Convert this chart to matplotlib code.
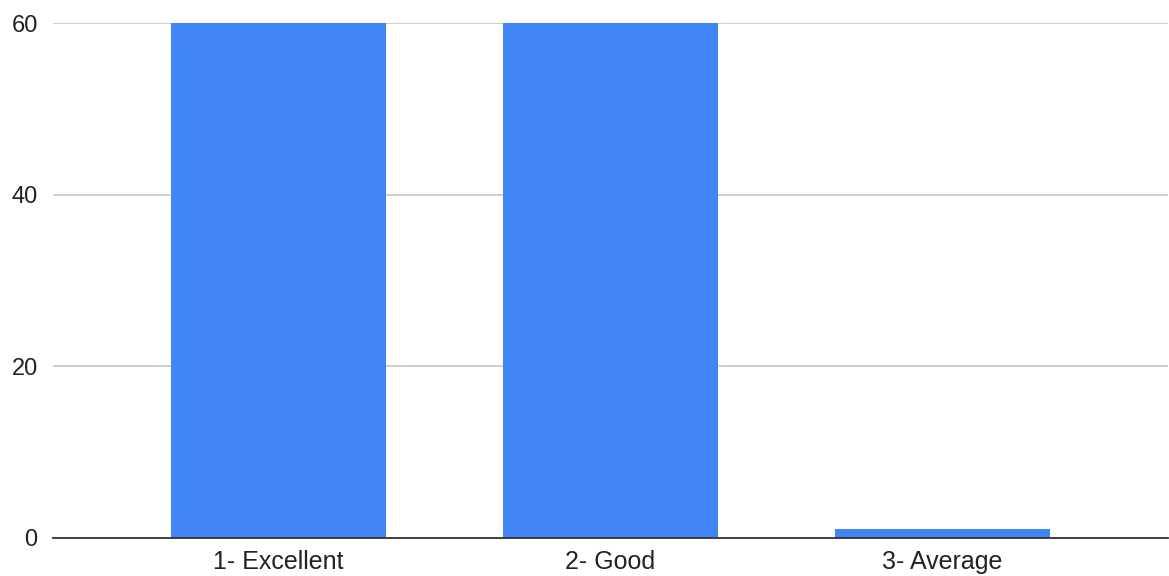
import matplotlib.pyplot as plt

# Дані
categories = ['1- Excellent', '2- Good', '3- Average']
counts = [60, 60, 1]
y_ticks = [0, 20, 40, 60]

plt.rcParams['font.family'] = ['Liberation Sans', 'DejaVu Sans']

fig = plt.figure(figsize=(11.69, 5.76), dpi=100)
ax = fig.add_axes([0.0453, 0.066, 0.9538, 0.894])

x = range(len(categories))
ax.bar(x, counts, width=0.648, color='#4285F4', zorder=3)

ax.set_xlim(-0.679, 2.679)
ax.set_ylim(0, 60)
ax.set_yticks(y_ticks)
ax.set_xticks(list(x))
ax.set_xticklabels(categories)

# Сітка та осі
ax.grid(axis='y', color='#cccccc', linewidth=1.3, zorder=0)
for side in ['top', 'right', 'left']:
    ax.spines[side].set_visible(False)
ax.spines['bottom'].set_color('#333333')
ax.spines['bottom'].set_linewidth(1.3)
ax.spines['bottom'].set_zorder(4)
ax.tick_params(axis='both', length=0, colors='#222222')
ax.tick_params(axis='y', pad=11, labelsize=17)
ax.tick_params(axis='x', pad=9, labelsize=18)

plt.savefig('out.png', dpi=100)
